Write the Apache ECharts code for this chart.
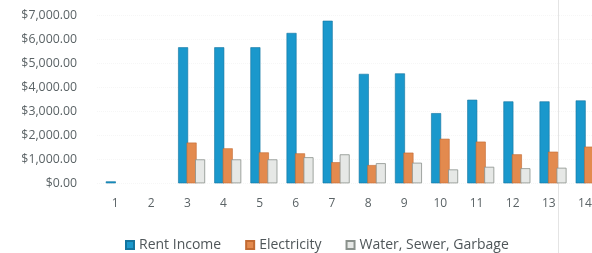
<!DOCTYPE html>
<html>
<head>
<meta charset="utf-8">
<script src="https://cdn.jsdelivr.net/npm/echarts@6/dist/echarts.min.js"></script>
<style>
    html, body { margin: 0; padding: 0; background: #fff; overflow: hidden; }
    /* the original is cropped on the right, so the chart runs past the window edge */
    #main { width: 606px; height: 253px; }
</style>
</head>
<body>
<div id="main"></div>
<script>
const categories = ["1", "2", "3", "4", "5", "6", "7", "8", "9", "10", "11", "12", "13", "14"];
const rentIncome = [80, null, 5680, 5680, 5680, 6280, 6790, 4570, 4590, 2930, 3490, 3420, 3420, 3460];
const electricity = [null, null, 1700, 1460, 1290, 1250, 880, 760, 1280, 1860, 1740, 1210, 1320, 1530];
const waterSewer = [null, null, 1000, 1000, 1000, 1090, 1210, 840, 860, 580, 690, 630, 650, 700];
const yTicks = [0, 1000, 2000, 3000, 4000, 5000, 6000, 7000];

const labelFont = '"Open Sans", sans-serif';

function money(v) {
    let s = String(Math.round(v));
    s = s.replace(/\B(?=(\d{3})+(?!\d))/g, ",");
    return "$" + s + ".00";
}

const myChart = echarts.init(document.getElementById("main"));
const option = {
    backgroundColor: "#fff",
    animation: false,
    textStyle: { fontFamily: labelFont, color: "#5b6366" },
    legend: {
        left: 120,
        top: 233,
        itemWidth: 8,
        itemHeight: 8,
        itemGap: 24,
        icon: "rect",
        textStyle: { fontSize: 14, color: "#4f5659", fontFamily: labelFont },
        data: ["Rent Income", "Electricity", "Water, Sewer, Garbage"],
    },
    grid: {
        left: 97,
        top: 15.7,
        width: 506,
        height: 167.6,
        containLabel: false,
    },
    xAxis: {
        type: "category",
        data: categories,
        axisLine: { show: false },
        axisTick: { show: false },
        axisLabel: { fontSize: 12, color: "#5b6366", margin: 14, fontFamily: labelFont },
    },
    yAxis: {
        type: "value",
        min: yTicks[0],
        max: yTicks[yTicks.length - 1],
        interval: 1000,
        axisLine: { show: false },
        axisTick: { show: false },
        splitLine: { show: true, lineStyle: { color: "#f6f6f6", type: "dotted" } },
        axisLabel: {
            fontSize: 12.3,
            color: "#5b6366",
            margin: 20,
            fontFamily: labelFont,
            formatter: (v) => money(v),
        },
    },
    series: [
        {
            // empty slot so the bar group sits right of the tick label, like the original
            name: "",
            type: "bar",
            data: categories.map(() => null),
            barWidth: 10,
            barGap: "-15%",
            silent: true,
        },
        {
            name: "Rent Income",
            type: "bar",
            data: rentIncome,
            barWidth: 10,
            itemStyle: { color: "#1a98cc", borderColor: "#12749f", borderWidth: 0.6 },
        },
        {
            name: "Electricity",
            type: "bar",
            data: electricity,
            barWidth: 10,
            itemStyle: { color: "#e38a4e", borderColor: "#c26a32", borderWidth: 0.6 },
        },
        {
            name: "Water, Sewer, Garbage",
            type: "bar",
            data: waterSewer,
            barWidth: 10,
            itemStyle: { color: "#e6e8e6", borderColor: "#8a918c", borderWidth: 0.8 },
        },
    ],
    graphic: [
        {
            // faint page edge visible in the scan
            type: "line",
            shape: { x1: 558.5, y1: 0, x2: 558.5, y2: 253 },
            style: { stroke: "#e4e4e4", lineWidth: 1 },
            silent: true,
        },
    ],
};
myChart.setOption(option);
</script>
</body>
</html>
